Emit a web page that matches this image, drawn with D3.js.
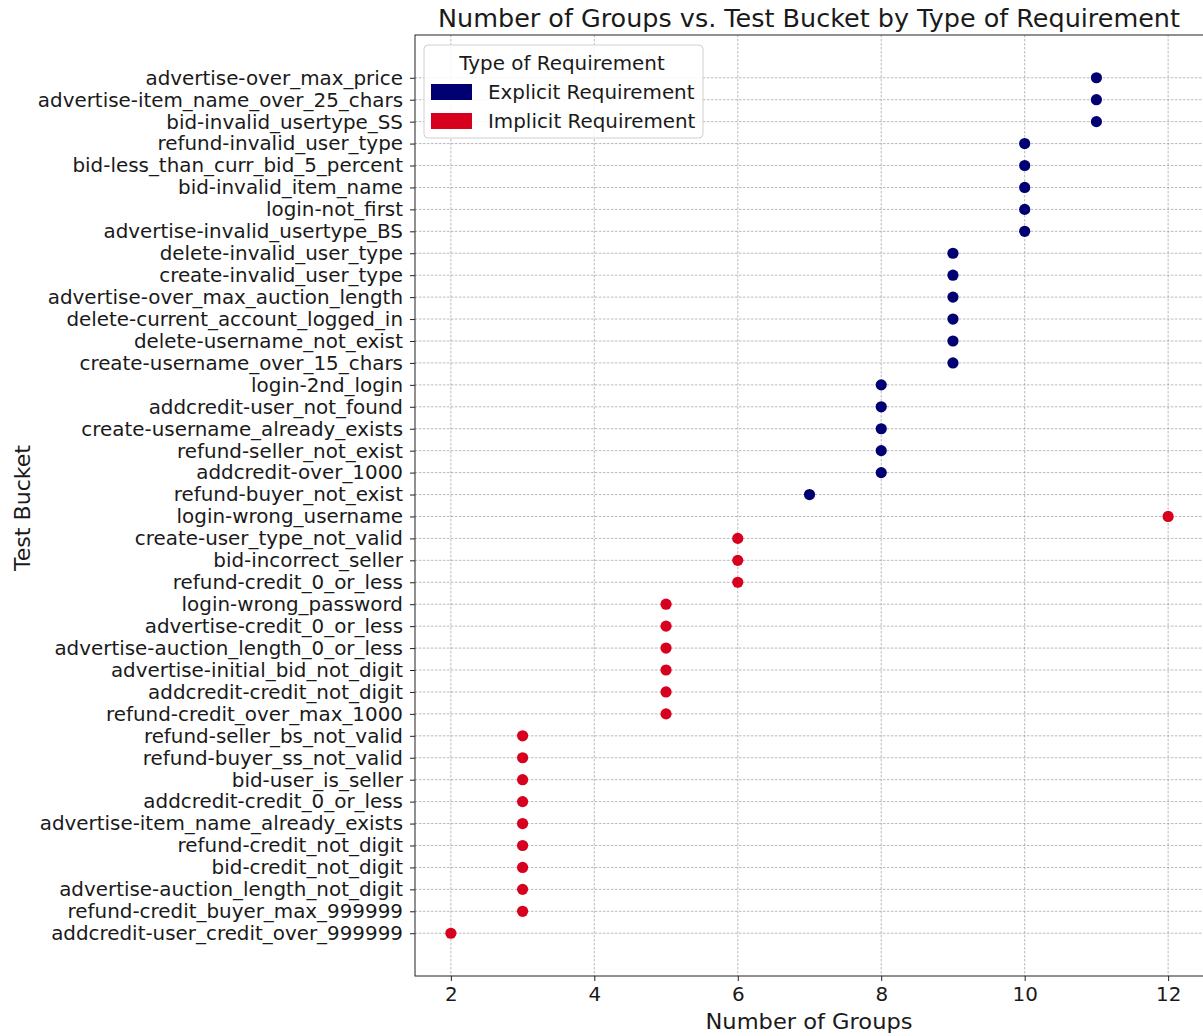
<!DOCTYPE html>
<html lang="en">
<head>
<meta charset="UTF-8">
<title>Number of Groups vs. Test Bucket</title>
<script src="https://d3js.org/d3.v7.min.js"></script>
<style>
  body { margin: 0; background: #fff; }
  svg text { font-family: "DejaVu Sans", sans-serif; fill: #1a1a1a; }
</style>
</head>
<body>
<div id="chart"></div>
<script>
// test buckets, top to bottom
var buckets = [
  "advertise-over_max_price", "advertise-item_name_over_25_chars", "bid-invalid_usertype_SS",
  "refund-invalid_user_type", "bid-less_than_curr_bid_5_percent", "bid-invalid_item_name",
  "login-not_first", "advertise-invalid_usertype_BS", "delete-invalid_user_type",
  "create-invalid_user_type", "advertise-over_max_auction_length", "delete-current_account_logged_in",
  "delete-username_not_exist", "create-username_over_15_chars", "login-2nd_login",
  "addcredit-user_not_found", "create-username_already_exists", "refund-seller_not_exist",
  "addcredit-over_1000", "refund-buyer_not_exist", "login-wrong_username",
  "create-user_type_not_valid", "bid-incorrect_seller", "refund-credit_0_or_less",
  "login-wrong_password", "advertise-credit_0_or_less", "advertise-auction_length_0_or_less",
  "advertise-initial_bid_not_digit", "addcredit-credit_not_digit", "refund-credit_over_max_1000",
  "refund-seller_bs_not_valid", "refund-buyer_ss_not_valid", "bid-user_is_seller",
  "addcredit-credit_0_or_less", "advertise-item_name_already_exists", "refund-credit_not_digit",
  "bid-credit_not_digit", "advertise-auction_length_not_digit", "refund-credit_buyer_max_999999",
  "addcredit-user_credit_over_999999"
];
var groups = [11, 11, 11, 10, 10, 10, 10, 10, 9, 9, 9, 9, 9, 9, 8, 8, 8, 8, 8, 7,
              12, 6, 6, 6, 5, 5, 5, 5, 5, 5, 3, 3, 3, 3, 3, 3, 3, 3, 3, 2];
// E = explicit, I = implicit
var reqType = ["E","E","E","E","E","E","E","E","E","E","E","E","E","E","E","E","E","E","E","E",
               "I","I","I","I","I","I","I","I","I","I","I","I","I","I","I","I","I","I","I","I"];
var typeNames = ["Explicit Requirement", "Implicit Requirement"];
var xTicks = [2, 4, 6, 8, 10, 12];

var colors = {E: "#000073", I: "#d8001f"};

var W = 1203, H = 1036;
var margin = {top: 35, right: 0, bottom: 60, left: 415};
var width = 1204 - margin.left, height = 976 - margin.top;

var data = buckets.map(function(b, i) { return {bucket: b, value: groups[i], type: reqType[i]}; });

var svg = d3.select("#chart").append("svg")
  .attr("width", W).attr("height", H);
var g = svg.append("g").attr("transform", "translate(" + margin.left + "," + margin.top + ")");

var x = d3.scaleLinear().domain([1.5, 12.5]).range([0, width]);
// matplotlib style 5% padding around categorical positions
var n = buckets.length;
var pad = 0.05 * (n - 1);
var yIdx = d3.scaleLinear().domain([-pad, n - 1 + pad]).range([0, height]);
function y(b) { return yIdx(buckets.indexOf(b)); }

// grid
var gridStyle = function(sel) {
  sel.attr("stroke", "#8c8c8c").attr("stroke-width", 0.6).attr("stroke-dasharray", "2.5,1.5");
};
g.append("g").selectAll("line").data(xTicks).join("line")
  .attr("x1", function(d) { return x(d); }).attr("x2", function(d) { return x(d); })
  .attr("y1", 0).attr("y2", height).call(gridStyle);
g.append("g").selectAll("line").data(buckets).join("line")
  .attr("x1", 0).attr("x2", width)
  .attr("y1", function(d) { return y(d); }).attr("y2", function(d) { return y(d); })
  .call(gridStyle);

// axes
var xAxis = g.append("g").attr("transform", "translate(0," + height + ")")
  .call(d3.axisBottom(x).tickValues(xTicks).tickSize(5).tickPadding(6).tickFormat(d3.format("d")));
xAxis.selectAll("text").style("font-size", "19.9px");

var yAxis = g.append("g")
  .call(d3.axisLeft(d3.scalePoint().domain(buckets).range([y(buckets[0]), y(buckets[n - 1])]))
    .tickSize(5).tickPadding(7));
yAxis.selectAll("text").style("font-size", "19.9px");
svg.selectAll(".domain").remove();
svg.selectAll(".tick line").attr("stroke", "#222");

// frame
g.append("rect").attr("width", width).attr("height", height)
  .attr("fill", "none").attr("stroke", "#222").attr("stroke-width", 1);

// points
g.append("g").selectAll("circle").data(data).join("circle")
  .attr("cx", function(d) { return x(d.value); })
  .attr("cy", function(d) { return y(d.bucket); })
  .attr("r", 5.6)
  .attr("fill", function(d) { return colors[d.type]; });

// title and labels
svg.append("text").attr("x", 809).attr("y", 27).attr("text-anchor", "middle")
  .style("font-size", "24px").attr("textLength", 742).attr("lengthAdjust", "spacingAndGlyphs")
  .text("Number of Groups vs. Test Bucket by Type of Requirement");
svg.append("text").attr("x", 809).attr("y", 1029).attr("text-anchor", "middle")
  .style("font-size", "21.5px").attr("textLength", 207).attr("lengthAdjust", "spacingAndGlyphs")
  .text("Number of Groups");
svg.append("text").attr("transform", "translate(30,508) rotate(-90)").attr("text-anchor", "middle")
  .style("font-size", "21.5px").attr("textLength", 126).attr("lengthAdjust", "spacingAndGlyphs")
  .text("Test Bucket");

// legend
var lg = svg.append("g").attr("transform", "translate(424,45)");
lg.append("rect").attr("width", 279).attr("height", 93).attr("rx", 4)
  .attr("fill", "#fff").attr("fill-opacity", 0.85).attr("stroke", "#d0d0d0");
lg.append("text").attr("x", 138).attr("y", 25).attr("text-anchor", "middle")
  .style("font-size", "19.9px").text("Type of Requirement");
var items = lg.selectAll("g.item").data(typeNames).join("g").attr("class", "item")
  .attr("transform", function(d, i) { return "translate(7," + (39 + i * 29) + ")"; });
items.append("rect").attr("width", 41).attr("height", 16)
  .attr("fill", function(d, i) { return i === 0 ? colors.E : colors.I; });
items.append("text").attr("x", 57).attr("y", 15).style("font-size", "19.9px").text(function(d) { return d; });
</script>
</body>
</html>
